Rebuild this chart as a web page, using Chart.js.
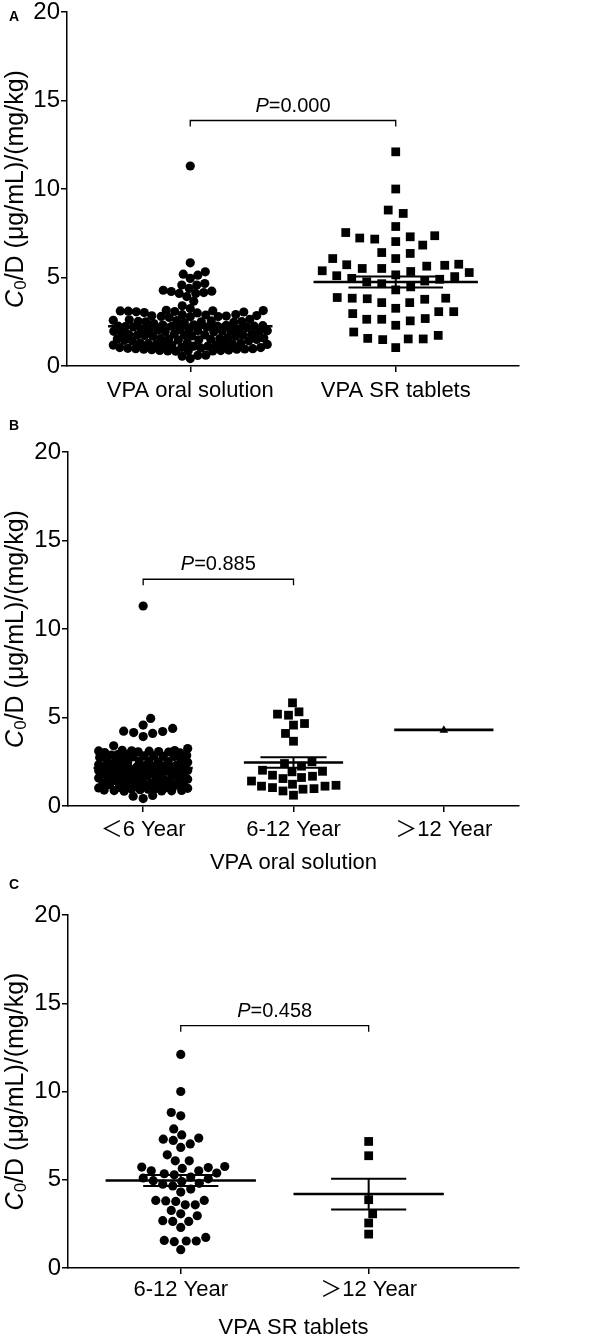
<!DOCTYPE html>
<html>
<head>
<meta charset="utf-8">
<script src="https://cdn.jsdelivr.net/npm/chart.js@4.4.1/dist/chart.umd.min.js"></script>
<style>
  html, body { margin: 0; padding: 0; background: #fff; }
  body { width: 613px; height: 1339px; position: relative; overflow: hidden; }
  canvas { position: absolute; left: 0; }
</style>
</head>
<body>
<canvas id="panelA"></canvas>
<canvas id="panelB"></canvas>
<canvas id="panelC"></canvas>
<script>
// ---- values ----
const oralUnder6 = [
  11.3,
  4.95, 4.57, 4.38, 4.23, 4.21, 4.15, 4.10, 3.92,
  3.40, 3.25,
  3.12, 3.05, 3.10, 3.00, 3.08, 3.15, 3.02, 3.11, 3.06, 3.13,
  2.85, 2.80, 2.91, 2.78, 2.82, 2.88, 2.74, 2.84, 2.79, 2.90,
  2.55, 2.50, 2.61, 2.45, 2.52, 2.58, 2.47, 2.63, 2.51, 2.56,
  2.30, 2.25, 2.20, 2.28, 2.22, 2.33, 2.18, 2.26, 2.24, 2.31, 2.21,
  2.05, 2.00, 1.98, 2.02, 2.08, 1.95, 2.01, 2.04, 1.96, 2.06, 1.99,
  1.80, 1.75, 1.72, 1.78, 1.83, 1.70, 1.76, 1.74, 1.81, 1.68,
  1.50, 1.45, 1.55, 1.48, 1.52, 1.42, 1.58, 1.51, 1.46, 1.54,
  1.25, 1.20, 1.30, 1.22, 1.28, 1.18, 1.24, 1.31, 1.21, 1.26,
  1.00, 0.95, 1.05, 0.98, 0.92, 1.02, 0.96, 1.04, 0.90,
  0.88, 0.86, 0.84, 0.87, 0.85,
  0.60, 0.55,
  0.42
];
const oral6to12 = [
  5.83, 5.32, 5.19, 5.13, 4.66, 4.57, 4.10, 3.66,
  2.50, 2.40, 2.25,
  2.02, 1.96, 1.93, 1.74, 1.68, 1.61, 1.55, 1.41,
  1.23, 1.17, 1.12, 1.12, 1.04, 0.98, 0.95, 0.85, 0.61
];
const oralOver12 = [4.28];

const tablet6to12 = [
  12.1, 10.0, 8.81, 8.62, 7.88, 7.54, 7.36, 7.30, 7.23, 7.03, 6.83, 6.41,
  6.07, 6.07, 5.75, 5.72, 5.69, 5.64, 5.51, 5.51, 5.38, 5.34, 5.28,
  5.15, 5.10, 5.05, 4.95, 4.90, 4.80, 4.75, 4.65, 4.47, 4.30,
  3.83, 3.83, 3.77, 3.58, 3.58, 3.80, 3.26, 3.07, 2.96, 2.68, 2.64, 2.64,
  2.30, 1.56, 1.53, 1.73, 1.49, 1.53, 1.04
];
const tabletOver12 = [7.17, 6.36, 3.87, 3.07, 2.55, 1.92];

const catsA = ['VPA oral solution', 'VPA SR tablets'];
const catsB = ['＜6 Year', '6-12 Year', '＞12 Year'];
const catsC = ['6-12 Year', '＞12 Year'];

// mean and SEM of each group
const meansA = [2.25, 4.75];
const semsA = [0.10, 0.31];
const meansB = [2.15, 2.46, 4.30];
const semsB = [0.11, 0.30, 0];
const meansC = [4.96, 4.19];
const semsC = [0.31, 0.87];

const yTicks = [0, 5, 10, 15, 20];
const pValues = ['0.000', '0.885', '0.458'];
const bracketLevels = [13.87, 12.81, 13.73];

const FONT = '"Liberation Sans", Arial, "Noto Sans CJK SC", sans-serif';
Chart.defaults.font.family = FONT;
Chart.defaults.color = '#000';

// title, panel letter, bracket and p value
const decor = {
  id: 'decor',
  afterDraw(chart, args, o) {
    const { ctx, chartArea, scales: { x, y } } = chart;
    ctx.save();
    ctx.fillStyle = '#000';
    ctx.strokeStyle = '#000';

    ctx.font = 'bold 14px ' + FONT;
    ctx.textAlign = 'left';
    ctx.textBaseline = 'middle';
    ctx.fillText(o.letter, 9, o.letterY);

    // y axis title with italic C and subscript 0
    ctx.save();
    ctx.translate(16, (chartArea.top + chartArea.bottom) / 2);
    ctx.rotate(-Math.PI / 2);
    const parts = [
      { t: 'C', f: 'italic 25px ' + FONT, dy: 0 },
      { t: '0', f: '17px ' + FONT, dy: 5 },
      { t: '/D (μg/mL)/(mg/kg)', f: '25px ' + FONT, dy: 0 }
    ];
    let total = 0;
    parts.forEach(p => { ctx.font = p.f; p.w = ctx.measureText(p.t).width; total += p.w; });
    let tx = -total / 2;
    parts.forEach(p => { ctx.font = p.f; ctx.fillText(p.t, tx, p.dy); tx += p.w; });
    ctx.restore();

    // significance bracket
    const x1 = x.getPixelForValue(o.bracket[0]);
    const x2 = x.getPixelForValue(o.bracket[1]);
    const yb = y.getPixelForValue(o.bracket[2]);
    ctx.lineWidth = 1.3;
    ctx.beginPath();
    ctx.moveTo(x1, yb + 6);
    ctx.lineTo(x1, yb);
    ctx.lineTo(x2, yb);
    ctx.lineTo(x2, yb + 6);
    ctx.stroke();

    const pf = 'italic 20px ' + FONT, rf = '20px ' + FONT;
    const rest = '=' + o.p;
    ctx.font = pf; const wP = ctx.measureText('P').width;
    ctx.font = rf; const wR = ctx.measureText(rest).width;
    let px = (x1 + x2) / 2 - (wP + wR) / 2;
    ctx.textBaseline = 'alphabetic';
    ctx.font = pf; ctx.fillText('P', px, yb - 9);
    ctx.font = rf; ctx.fillText(rest, px + wP, yb - 9);
    ctx.restore();
  }
};

function pointSet(values, cat, style, radius, spread, gap) {
  return {
    values, cat, spread, gap,
    data: values.map(v => ({ x: cat, y: v })),
    pointStyle: style, pointRadius: radius, pointHoverRadius: radius,
    backgroundColor: '#000', borderColor: '#000', borderWidth: 0,
    order: 1
  };
}

function summarySets(means, sems, half, semHalf) {
  const meanPts = [], semPts = [];
  means.forEach((m, i) => {
    const c = i + 1;
    meanPts.push({ x: c - half, y: m }, { x: c + half, y: m }, { x: c, y: null });
    if (sems[i] > 0) {
      const hi = m + sems[i], lo = m - sems[i];
      semPts.push({ x: c - semHalf, y: hi }, { x: c + semHalf, y: hi }, { x: c, y: null },
        { x: c - semHalf, y: lo }, { x: c + semHalf, y: lo }, { x: c, y: null },
        { x: c, y: lo }, { x: c, y: hi }, { x: c, y: null });
    }
  });
  const base = { showLine: true, pointRadius: 0, borderColor: '#000', spanGaps: false, order: 0 };
  return [
    Object.assign({ data: meanPts, borderWidth: 2.6 }, base),
    Object.assign({ data: semPts, borderWidth: 2 }, base)
  ];
}

// spread the dots of each group sideways without overlap (beeswarm)
function swarm(chart) {
  const xs = chart.scales.x, ys = chart.scales.y;
  const unitPx = xs.getPixelForValue(1) - xs.getPixelForValue(0);
  chart.data.datasets.forEach(ds => {
    if (!ds.values) return;
    const limit = ds.spread * unitPx - 5;
    const placed = [];
    const offs = [];
    const order = ds.values.map((v, i) => i).sort((a, b) => ds.values[a] - ds.values[b]);
    let side = 1;
    order.forEach(i => {
      const py = ys.getPixelForValue(ds.values[i]);
      let best = 0, bestScore = -1, done = false;
      for (let k = 0; k <= limit && !done; k += 0.5) {
        for (const s of (k === 0 ? [1] : [side, -side])) {
          const ox = k * s;
          let m = Infinity;
          placed.forEach(p => {
            const dy = p.y - py;
            if (Math.abs(dy) < ds.gap) m = Math.min(m, Math.hypot(p.x - ox, dy));
          });
          if (m >= ds.gap) { best = ox; done = true; break; }
          if (m > bestScore) { bestScore = m; best = ox; }
        }
      }
      side = -side;
      placed.push({ x: best, y: py });
      offs[i] = best;
    });
    ds.data = ds.values.map((v, i) => ({ x: ds.cat + offs[i] / unitPx, y: v }));
  });
  chart.update('none');
}

function makePanel(cfg) {
  const canvas = document.getElementById(cfg.id);
  canvas.width = 613; canvas.height = cfg.height;
  canvas.style.width = '613px'; canvas.style.height = cfg.height + 'px';
  canvas.style.top = cfg.top + 'px';
  const plotH = cfg.plotBottom - cfg.plotTop;
  const chart = new Chart(canvas, {
    type: 'scatter',
    data: { datasets: [...summarySets(cfg.means, cfg.sems, cfg.half, cfg.semHalf), ...cfg.points] },
    options: {
      responsive: false,
      animation: false,
      layout: { padding: { top: cfg.plotTop - cfg.top, right: 94, bottom: 0, left: 0 } },
      plugins: {
        legend: { display: false },
        tooltip: { enabled: false },
        decor: { letter: cfg.letter, letterY: cfg.letterY - cfg.top, p: cfg.p, bracket: cfg.bracket }
      },
      scales: {
        x: {
          type: 'linear', min: cfg.xMin, max: cfg.xMax,
          afterBuildTicks: s => { s.ticks = cfg.cats.map((c, i) => ({ value: i + 1 })); },
          afterFit: s => { s.height = cfg.height - (cfg.plotTop - cfg.top) - plotH; },
          ticks: { autoSkip: false, maxRotation: 0, padding: cfg.tickPad, font: { size: 22 },
                   callback: v => cfg.cats[v - 1] },
          grid: { display: true, drawOnChartArea: false, drawTicks: true, tickLength: 6, color: '#000', lineWidth: 1.5 },
          border: { display: true, color: '#000', width: 1.5 },
          title: { display: !!cfg.xTitle, text: cfg.xTitle, font: { size: 22, lineHeight: 1 }, padding: 0 }
        },
        y: {
          min: 0, max: 20,
          afterBuildTicks: s => { s.ticks = yTicks.map(v => ({ value: v })); },
          afterFit: s => { s.width = cfg.axisLeft; },
          ticks: { padding: 1, font: { size: 24 } },
          grid: { display: true, drawOnChartArea: false, drawTicks: true, tickLength: 6, color: '#000', lineWidth: 1.5 },
          border: { display: true, color: '#000', width: 1.5 }
        }
      }
    },
    plugins: [decor]
  });
  swarm(chart);
  return chart;
}

makePanel({
  id: 'panelA', top: -8, height: 428, plotTop: 12, plotBottom: 366, axisLeft: 67, tickPad: 6,
  xMin: 0.4, xMax: 2.6, cats: catsA, xTitle: '', letter: 'A', letterY: 17,
  means: meansA, sems: semsA, half: 0.4, semHalf: 0.23,
  p: pValues[0], bracket: [1, 2, bracketLevels[0]],
  points: [
    pointSet([...oralUnder6, ...oral6to12, ...oralOver12], 1, 'circle', 4.6, 0.4, 8),
    pointSet([...tablet6to12, ...tabletOver12], 2, 'rect', 6.2, 0.4, 15)
  ]
});

makePanel({
  id: 'panelB', top: 410, height: 464, plotTop: 452, plotBottom: 806, axisLeft: 68, tickPad: 5,
  xMin: 0.5, xMax: 3.5, cats: catsB, xTitle: 'VPA oral solution', letter: 'B', letterY: 426,
  means: meansB, sems: semsB, half: 0.33, semHalf: 0.22,
  p: pValues[1], bracket: [1, 2, bracketLevels[1]],
  points: [
    pointSet(oralUnder6, 1, 'circle', 4.6, 0.33, 10),
    pointSet(oral6to12, 2, 'rect', 6.2, 0.33, 11),
    pointSet(oralOver12, 3, 'triangle', 5, 0.33, 10)
  ]
});

makePanel({
  id: 'panelC', top: 874, height: 465, plotTop: 915, plotBottom: 1268, axisLeft: 68, tickPad: 3,
  xMin: 0.4, xMax: 2.8, cats: catsC, xTitle: 'VPA SR tablets', letter: 'C', letterY: 885,
  means: meansC, sems: semsC, half: 0.4, semHalf: 0.2,
  p: pValues[2], bracket: [1, 2, bracketLevels[2]],
  points: [
    pointSet(tablet6to12, 1, 'circle', 4.6, 0.4, 10),
    pointSet(tabletOver12, 2, 'rect', 6.2, 0.4, 10)
  ]
});
</script>
</body>
</html>
